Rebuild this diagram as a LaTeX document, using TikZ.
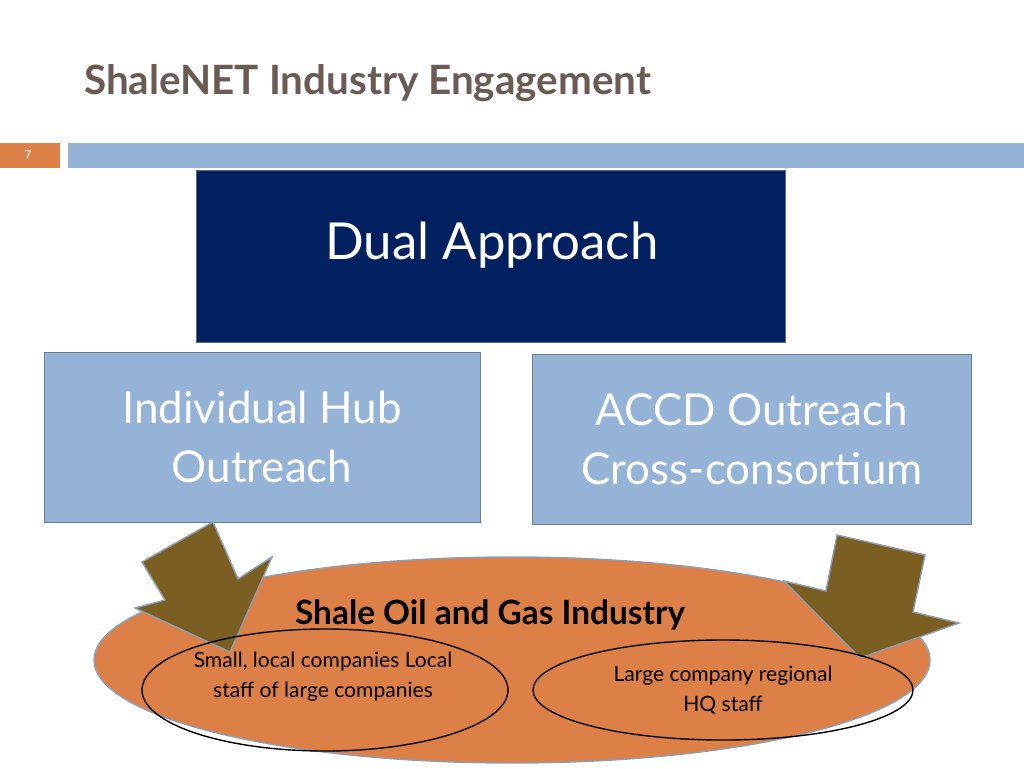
\documentclass[tikz,border=0pt]{standalone}
\usepackage{fontspec}
\setsansfont{Lato}
\definecolor{barblue}{HTML}{95B3D7}
\definecolor{navy}{HTML}{002060}
\definecolor{orangefill}{HTML}{DD8047}
\definecolor{olive}{HTML}{7B5E22}
\definecolor{titlegray}{HTML}{6B5B55}
\tikzset{
  hubbox/.style={draw=barblue!70!black, fill=barblue, text=white, align=center, font=\sffamily\fontsize{25}{34}\selectfont, inner sep=0pt},
  groupoval/.style={draw=black, thick, ellipse, align=center, font=\sffamily\fontsize{12}{17}\selectfont},
  bigarrow/.style={fill=olive, draw=barblue!60!gray, thick}
}
\usetikzlibrary{shapes.geometric}
\begin{document}
\begin{tikzpicture}[x=0.02cm, y=-0.02cm]
    \useasboundingbox (0,0) rectangle (1024,768);

    % Title and header bar
    \node[anchor=west, text=titlegray, font=\sffamily\bfseries\fontsize{23}{28}\selectfont] (title) at (78,83) {ShaleNET Industry Engagement};
    \fill[orangefill] (0,143) rectangle (60,168);
    \node[text=white, font=\sffamily\scriptsize] (pagenum) at (28,155) {7};
    \fill[barblue] (68,143) rectangle (1024,168);

    % Top box
    \node[draw=barblue!60!black, fill=navy, minimum width=589*0.02cm, minimum height=172*0.02cm, anchor=north west] (dual) at (196,170) {};
    \node[text=white, font=\sffamily\fontsize{29}{34}\selectfont] (dualtext) at (492,245) {Dual Approach};

    % Two approach boxes
    \node[hubbox, minimum width=436*0.02cm, minimum height=170*0.02cm] (hub) at (262,437) {Individual Hub\\Outreach};
    \node[hubbox, minimum width=439*0.02cm, minimum height=170*0.02cm] (accd) at (752,439) {ACCD Outreach\\Cross-consortium};

    % Industry ellipse
    \node[draw=barblue!60!gray, thick, fill=orangefill, ellipse, minimum width=836*0.02cm, minimum height=206*0.02cm] (industry) at (512,660) {};
    \node[font=\sffamily\bfseries\fontsize{19}{22}\selectfont] (industrytext) at (490,615) {Shale Oil and Gas Industry};

    % Arrows
    \filldraw[bigarrow] (142,562) -- (213,522) -- (238,579) -- (272,557) -- (230,652) -- (135,608) -- (165,600) -- cycle;
    \filldraw[bigarrow] (837,535) -- (925,555) -- (913,612) -- (959,623) -- (860,658) -- (784,581) -- (826,591) -- cycle;

    % Inner groups
    \node[groupoval, minimum width=366*0.02cm, minimum height=122*0.02cm] (small) at (325,690) {};
    \node[align=center, font=\sffamily\fontsize{12}{17}\selectfont] (smalltext) at (323,677) {Small, local companies Local\\staff of large companies};
    \node[groupoval, minimum width=380*0.02cm, minimum height=100*0.02cm] (large) at (723,690) {Large company regional\\HQ staff};
\end{tikzpicture}
\end{document}
